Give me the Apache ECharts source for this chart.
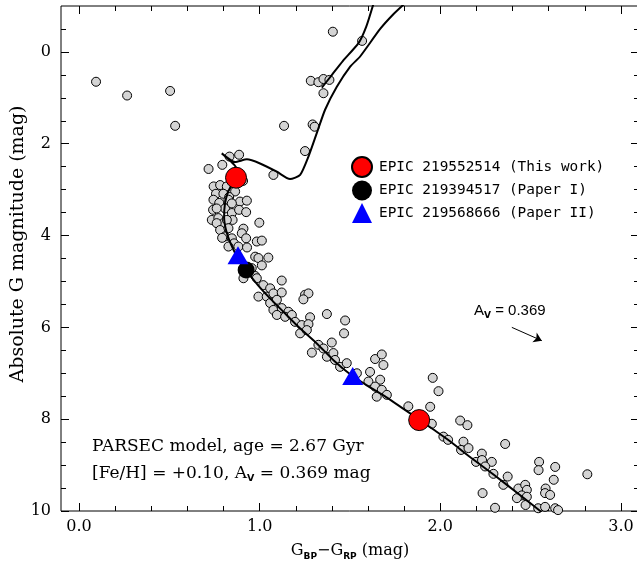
<!DOCTYPE html>
<html><head><meta charset="utf-8">
<script src="https://cdn.jsdelivr.net/npm/echarts@6.0.0/dist/echarts.min.js"></script>
<style>html,body{margin:0;padding:0;background:#fff}#c{width:637px;height:564px}</style>
</head><body><div id="c"></div><script>
const xMajor=[0,1,2,3];
const xMinor=[0.2,0.4,0.6,0.8,1.2,1.4,1.6,1.8,2.2,2.4,2.6,2.8];
const yMajor=[0,2,4,6,8,10];
const yMinor=[-0.5,0.5,1,1.5,2.5,3,3.5,4.5,5,5.5,6.5,7,7.5,8.5,9,9.5];

const clusterStars=[
[0.094,0.65],[0.266,0.95],[0.504,0.85],[0.532,1.61],[1.135,1.61],[1.405,-0.44],[1.567,-0.24],
[1.283,0.63],[1.325,0.66],[1.353,0.59],[1.386,0.61],[1.353,0.90],[1.293,1.58],[1.304,1.63],[1.251,2.16],[1.076,2.68],
[0.717,2.55],[0.793,2.46],[0.833,2.28],[0.886,2.24],[0.908,2.81],
[0.745,2.93],[0.781,2.90],[0.818,2.93],[0.864,3.04],[0.758,3.09],[0.799,3.09],[0.831,3.16],[0.744,3.22],[0.776,3.29],[0.827,3.22],[0.891,3.26],[0.929,3.24],
[0.742,3.44],[0.808,3.41],[0.846,3.51],[0.886,3.44],[0.925,3.49],[0.846,3.30],[0.762,3.41],
[0.735,3.66],[0.771,3.62],[0.799,3.73],[0.850,3.66],[0.998,3.72],[0.818,3.66],[0.762,3.73],
[0.781,3.88],[0.827,3.84],[0.910,3.85],[0.901,3.95],[0.808,4.02],[0.846,4.06],[0.925,4.06],[0.984,4.13],[1.012,4.11],[0.792,4.05],[0.858,4.17],
[0.827,4.24],[0.882,4.24],[0.930,4.26],[0.975,4.46],[0.993,4.49],[1.048,4.48],[1.012,4.65],[0.956,4.71],[0.975,4.88],[0.910,4.93],[0.984,4.93],[1.122,4.98],
[1.020,5.08],[1.058,5.15],[0.993,5.33],[1.039,5.33],[1.076,5.26],[1.122,5.24],[1.058,5.47],[1.095,5.40],[1.251,5.29],[1.270,5.26],[1.242,5.39],
[1.076,5.62],[1.122,5.58],[1.159,5.66],[1.095,5.73],[1.141,5.77],[1.178,5.73],[1.279,5.78],[1.196,5.88],[1.233,5.95],[1.270,5.93],[1.224,6.13],[1.261,6.06],
[1.372,5.71],[1.473,5.85],[1.467,6.13],[1.399,6.33],[1.325,6.38],[1.289,6.55],[1.353,6.46],[1.372,6.64],[1.408,6.56],[1.417,6.71],[1.445,6.86],[1.482,6.78],[1.538,7.00],[1.611,6.97],[1.639,6.69],[1.676,6.59],[1.685,6.82],[1.602,7.18],[1.667,7.14],[1.639,7.29],[1.676,7.36],[1.704,7.47],[1.648,7.51],
[1.958,7.10],[1.990,7.39],[1.823,7.72],[1.944,7.73],[2.110,8.03],[2.150,8.13],[1.953,8.10],[2.017,8.38],[2.043,8.45],[2.128,8.49],[2.115,8.67],[2.156,8.63],[2.359,8.54],[2.230,8.75],[2.198,8.93],[2.231,8.89],[2.285,8.93],[2.248,9.03],[2.294,9.19],[2.373,9.25],[2.349,9.43],[2.432,9.51],[2.470,9.43],[2.479,9.54],[2.451,9.66],[2.479,9.69],[2.424,9.72],[2.547,8.93],[2.544,9.11],[2.636,9.04],[2.628,9.32],[2.814,9.20],[2.234,9.61],[2.583,9.51],[2.580,9.61],[2.608,9.65],[2.472,9.87],[2.303,9.93],[2.542,9.94],[2.580,9.91],[2.636,9.94],[2.652,9.98]
];

const isochroneMain=[
[2.56,10.02],[2.43,9.62],[2.30,9.22],[2.17,8.84],[2.05,8.47],[1.96,8.22],[1.88,8.0],[1.79,7.76],[1.70,7.52],[1.60,7.28],[1.51,7.05],[1.41,6.72],[1.316,6.35],[1.22,6.01],[1.131,5.66],[1.06,5.38],[0.99,5.08],[0.925,4.75],[0.875,4.46],[0.84,4.18],[0.815,3.90],[0.803,3.60],[0.808,3.30],[0.825,3.05],[0.850,2.86],[0.868,2.72],[0.872,2.55],[0.79,2.21],[0.864,2.40],[0.929,2.34],[1.002,2.43],[1.095,2.61],[1.168,2.77],[1.224,2.68],[1.270,2.28],[1.316,1.77],[1.362,1.26],[1.427,0.76],[1.501,0.32],[1.556,0.10],[1.667,-0.50],[1.74,-0.82],[1.81,-1.08]
];
const isochroneAGB=[[1.344,0.78],[1.40,0.50],[1.46,0.20],[1.547,-0.19],[1.59,-0.55],[1.63,-1.05]];

const thisWork=[[0.869,2.74],[1.883,8.02]];
const paperI=[[0.925,4.75]];
const paperII=[[0.880,4.43],[1.515,7.06]];
const avArrow=[[2.396,6.00],[2.562,6.29]];

const serif='"DejaVu Serif"';
function xAx(pos, ticks, len, withLabels){
  const a={type:'value',position:pos,min:-0.1,max:3.1,axisLine:{show:false,onZero:false},splitLine:{show:false},
    axisTick:{show:true,inside:true,length:len,customValues:ticks,lineStyle:{color:'#000',width:1}},
    axisLabel:{show:false}};
  if(withLabels){
    a.axisLabel={show:true,customValues:xMajor,formatter:v=>v.toFixed(1),margin:8,color:'#000',fontFamily:serif,fontSize:16};
    a.name='{m|G}{s|BP}{m|\u2212G}{s|RP}{m| (mag)}';
    a.nameLocation='middle';a.nameGap=30;
    a.nameTextStyle={color:'#000',fontFamily:serif,fontSize:16,rich:{
      m:{fontFamily:serif,fontSize:16,color:'#000',verticalAlign:'bottom',lineHeight:20,padding:[0,0,2,0]},
      s:{fontFamily:'"DejaVu Sans"',fontWeight:'bold',fontSize:9,color:'#000',verticalAlign:'bottom',lineHeight:12}}};
  }
  return a;
}
function yAx(pos, ticks, len, withLabels){
  const a={type:'value',position:pos,min:-1,max:10,inverse:true,axisLine:{show:false,onZero:false},splitLine:{show:false},
    axisTick:{show:true,inside:true,length:len,customValues:ticks,lineStyle:{color:'#000',width:1}},
    axisLabel:{show:false}};
  if(withLabels){
    a.axisLabel={show:true,customValues:yMajor,margin:10,color:'#000',fontFamily:serif,fontSize:16};
  }
  return a;
}
const richSmall={
  m:{fontFamily:serif,fontSize:17,color:'#000',verticalAlign:'bottom',lineHeight:21,padding:[0,0,2,0]},
  s:{fontFamily:'"DejaVu Sans"',fontWeight:'bold',fontSize:9.5,color:'#000',verticalAlign:'bottom',lineHeight:12},
  a:{fontFamily:'"Liberation Sans"',fontSize:15,color:'#000',verticalAlign:'bottom',lineHeight:19,padding:[0,0,2,0]},
  v:{fontFamily:'"DejaVu Sans"',fontWeight:'bold',fontSize:9,color:'#000',verticalAlign:'bottom',lineHeight:12}
};
const chart=echarts.init(document.getElementById('c'),null,{renderer:'canvas'});
chart.setOption({
  animation:false,
  backgroundColor:'#fff',
  textStyle:{fontFamily:serif},
  grid:{left:61,top:6,right:-2,bottom:53,show:true,borderColor:'#000',borderWidth:1,backgroundColor:'transparent',outerBoundsMode:'none'},
  xAxis:[xAx('bottom',xMajor,8,true),xAx('bottom',xMinor,5,false),xAx('top',xMajor,8,false),xAx('top',xMinor,5,false)],
  yAxis:[yAx('left',yMajor,8,true),yAx('left',yMinor,5,false),yAx('right',yMajor,8,false),yAx('right',yMinor,5,false)],
  legend:{left:346,top:151,orient:'vertical',itemWidth:20,itemHeight:20,itemGap:2.5,selectedMode:false,
    data:['EPIC 219552514 (This work)','EPIC 219394517 (Paper I)','EPIC 219568666 (Paper II)'],
    textStyle:{fontFamily:'"DejaVu Sans Mono"',fontSize:14.4,color:'#000',padding:[0,0,0,2]}},
  graphic:[
    {type:'text',x:18,y:244,rotation:Math.PI/2,style:{text:'Absolute G magnitude (mag)',font:'19px "DejaVu Serif"',fill:'#000',align:'center',verticalAlign:'middle'}},
    {type:'text',left:92,top:438,style:{text:'{m|PARSEC model, age = 2.67 Gyr}',rich:richSmall}},
    {type:'text',left:92,top:465,style:{text:'{m|[Fe/H] = +0.10, A}{s|V}{m| = 0.369 mag}',rich:richSmall}},
    {type:'text',left:474,top:303,style:{text:'{a|A}{v|V}{a| = 0.369}',rich:richSmall}}
  ],
  series:[
    {type:'scatter',name:'cluster',data:clusterStars,symbol:'circle',symbolSize:9,silent:true,z:2,
      itemStyle:{color:'#d4d4d4',borderColor:'#000',borderWidth:1,opacity:1}},
    {type:'line',name:'iso',data:isochroneMain,showSymbol:false,symbol:'none',smooth:0.2,silent:true,z:3,
      lineStyle:{color:'#000',width:2}},
    {type:'line',name:'agb',data:isochroneAGB,showSymbol:false,symbol:'none',smooth:0.2,silent:true,z:3,
      lineStyle:{color:'#000',width:2}},
    {type:'lines',coordinateSystem:'cartesian2d',silent:true,z:3,data:[{coords:avArrow}],
      symbol:['none','arrow'],symbolSize:8,lineStyle:{color:'#000',width:1,opacity:1}},
    {type:'scatter',name:'EPIC 219552514 (This work)',data:thisWork,symbol:'circle',symbolSize:21,z:5,
      itemStyle:{color:'#ff0000',borderColor:'#000',borderWidth:1,opacity:1}},
    {type:'scatter',name:'EPIC 219394517 (Paper I)',data:paperI,symbol:'circle',symbolSize:17,z:5,
      itemStyle:{color:'#000',opacity:1}},
    {type:'scatter',name:'EPIC 219568666 (Paper II)',data:paperII,symbol:'triangle',symbolSize:[21,18],z:5,
      itemStyle:{color:'#0000ff',opacity:1}}
  ]
});
</script></body></html>
